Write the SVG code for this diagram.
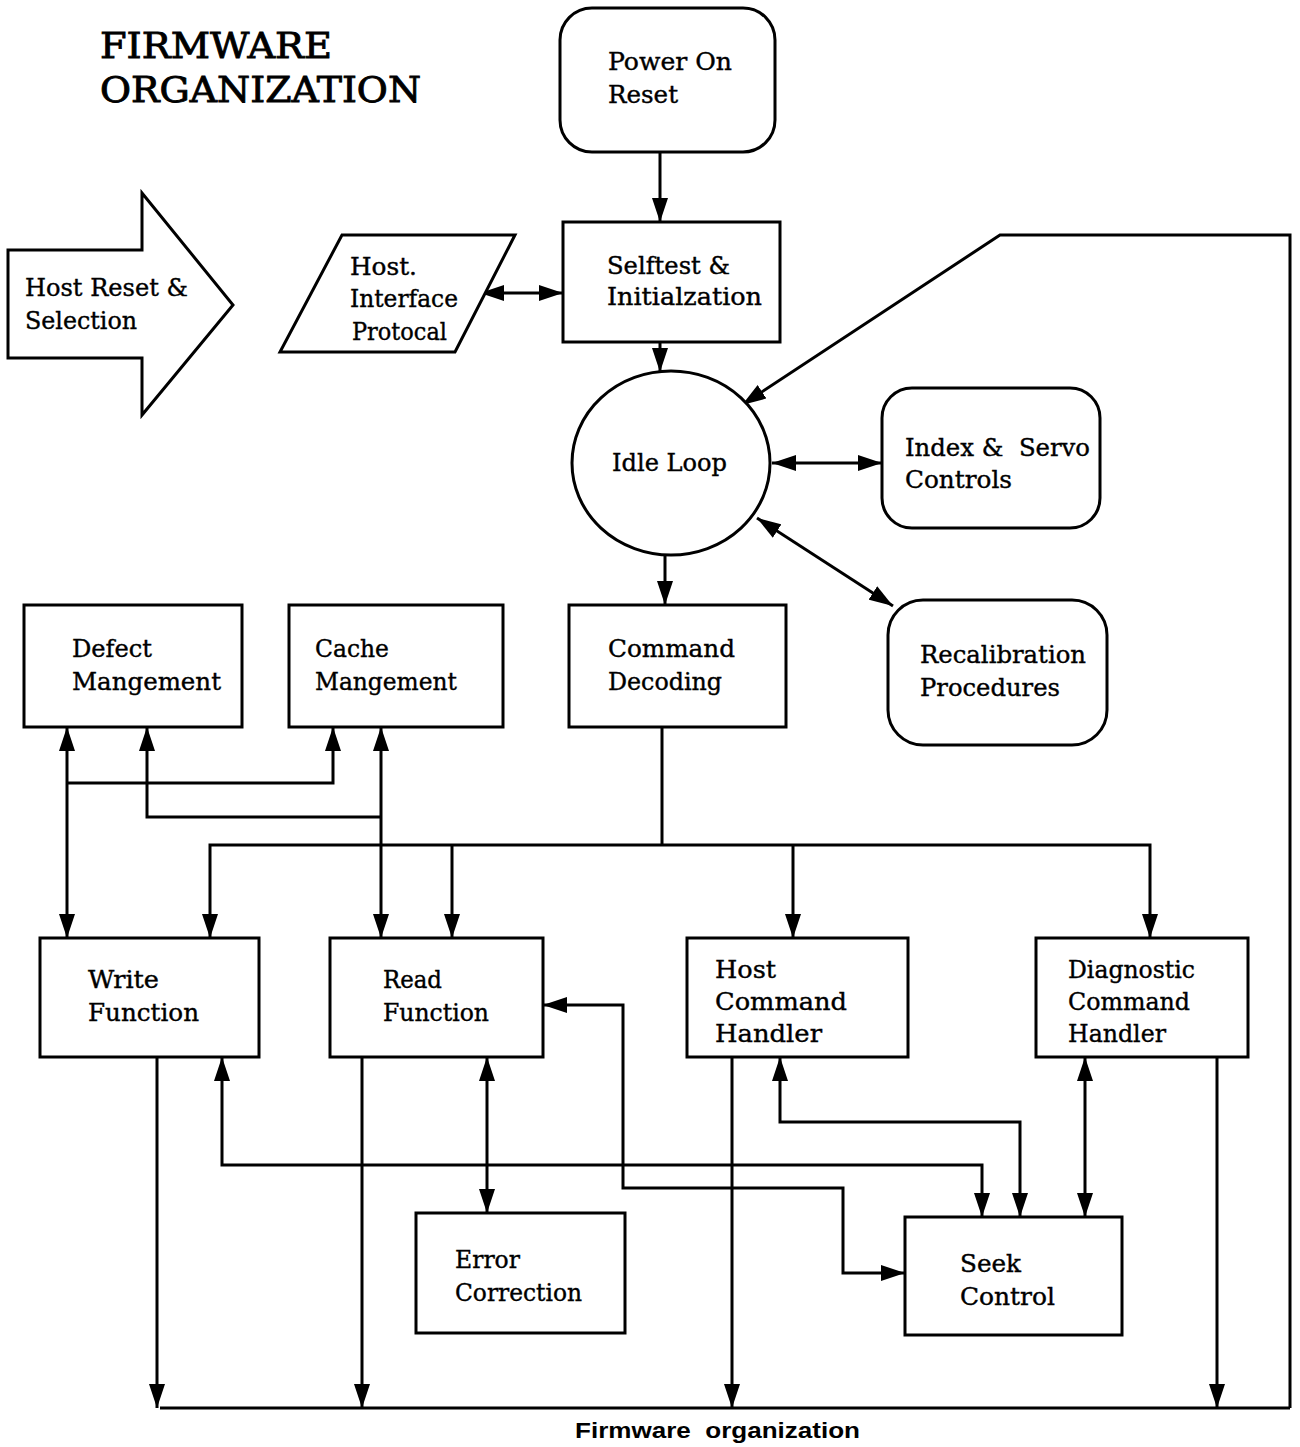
<svg xmlns="http://www.w3.org/2000/svg" width="1300" height="1447" viewBox="0 0 1300 1447">
<style>
.box{fill:#fff;stroke:#000;stroke-width:3}
.t{font-family:"DejaVu Serif","Liberation Serif",serif;font-size:25px;fill:#000;stroke:#000;stroke-width:0.4}
.title{font-family:"DejaVu Serif","Liberation Serif",serif;font-size:36px;fill:#000;stroke:#000;stroke-width:0.9}
.cap{font-family:"Liberation Sans",Arial,sans-serif;font-size:22px;font-weight:bold;fill:#000}
.c{fill:none;stroke:#000;stroke-width:3}
</style>
<defs>
<marker id="a" markerUnits="userSpaceOnUse" markerWidth="26" markerHeight="16" refX="24" refY="8" orient="auto-start-reverse">
<path d="M0,0 L24,8 L0,16 z" fill="#000"/>
</marker>
</defs>
<rect width="1300" height="1447" fill="#fff"/>
<g id="title">
<text class="title" x="100" y="58" textLength="232" lengthAdjust="spacingAndGlyphs">FIRMWARE</text>
<text class="title" x="100" y="102" textLength="321" lengthAdjust="spacingAndGlyphs">ORGANIZATION</text>
</g>
<g id="connectors">
<path class="c" d="M660,152 V222" marker-end="url(#a)"/>
<path class="c" d="M480,293 H563" marker-start="url(#a)" marker-end="url(#a)"/>
<path class="c" d="M660,342 V372" marker-end="url(#a)"/>
<path class="c" d="M772,463 H882" marker-start="url(#a)" marker-end="url(#a)"/>
<path class="c" d="M757,518 L893,606" marker-start="url(#a)" marker-end="url(#a)"/>
<path class="c" d="M1290,1408 V235 H1000 L742,405" marker-end="url(#a)"/>
<path class="c" d="M665,555 V605" marker-end="url(#a)"/>
<path class="c" d="M662,727 V845"/>
<path class="c" d="M210,938 V845 H1150 V938" marker-start="url(#a)" marker-end="url(#a)"/>
<path class="c" d="M452,845 V938" marker-end="url(#a)"/>
<path class="c" d="M793,845 V938" marker-end="url(#a)"/>
<path class="c" d="M67,727 V938" marker-start="url(#a)" marker-end="url(#a)"/>
<path class="c" d="M67,783 H333 V727" marker-end="url(#a)"/>
<path class="c" d="M147,727 V817 H381" marker-start="url(#a)"/>
<path class="c" d="M381,727 V938" marker-start="url(#a)" marker-end="url(#a)"/>
<path class="c" d="M157,1057 V1408" marker-end="url(#a)"/>
<path class="c" d="M362,1057 V1408" marker-end="url(#a)"/>
<path class="c" d="M732,1057 V1408" marker-end="url(#a)"/>
<path class="c" d="M1217,1057 V1408" marker-end="url(#a)"/>
<path class="c" d="M160,1408 H1290"/>
<path class="c" d="M222,1057 V1165 H982 V1217" marker-start="url(#a)" marker-end="url(#a)"/>
<path class="c" d="M487,1057 V1213" marker-start="url(#a)" marker-end="url(#a)"/>
<path class="c" d="M543,1005 H623 V1188 H843 V1273 H905" marker-start="url(#a)" marker-end="url(#a)"/>
<path class="c" d="M780,1057 V1122 H1020 V1217" marker-start="url(#a)" marker-end="url(#a)"/>
<path class="c" d="M1085,1057 V1217" marker-start="url(#a)" marker-end="url(#a)"/>
</g>
<g id="power-on-reset">
<rect class="box" x="560" y="8" width="215" height="144" rx="32"/>
<text class="t" x="608" y="70" textLength="124" lengthAdjust="spacingAndGlyphs">Power On</text>
<text class="t" x="608" y="103" textLength="70" lengthAdjust="spacingAndGlyphs">Reset</text>
</g>
<g id="host-reset">
<path class="box" d="M8,250 H142 V193 L233,305 L142,415 V358 H8 Z"/>
<text class="t" x="25" y="296" textLength="163" lengthAdjust="spacingAndGlyphs">Host Reset &amp;</text>
<text class="t" x="25" y="329" textLength="112" lengthAdjust="spacingAndGlyphs">Selection</text>
</g>
<g id="host-interface">
<path class="box" d="M342,235 H515 L455,352 H280 Z"/>
<text class="t" x="350" y="275" textLength="67" lengthAdjust="spacingAndGlyphs">Host.</text>
<text class="t" x="350" y="307" textLength="108" lengthAdjust="spacingAndGlyphs">Interface</text>
<text class="t" x="352" y="340" textLength="95" lengthAdjust="spacingAndGlyphs">Protocal</text>
</g>
<g id="selftest">
<rect class="box" x="563" y="222" width="217" height="120"/>
<text class="t" x="607" y="274" textLength="123" lengthAdjust="spacingAndGlyphs">Selftest &amp;</text>
<text class="t" x="607" y="305" textLength="155" lengthAdjust="spacingAndGlyphs">Initialzation</text>
</g>
<g id="idle-loop">
<ellipse class="box" cx="671" cy="463" rx="99" ry="92"/>
<text class="t" x="612" y="471" textLength="115" lengthAdjust="spacingAndGlyphs">Idle Loop</text>
</g>
<g id="index-servo">
<rect class="box" x="882" y="388" width="218" height="140" rx="30"/>
<text class="t" x="905" y="456" textLength="185" lengthAdjust="spacingAndGlyphs" xml:space="preserve">Index &amp;  Servo</text>
<text class="t" x="905" y="488" textLength="107" lengthAdjust="spacingAndGlyphs">Controls</text>
</g>
<g id="recalibration">
<rect class="box" x="888" y="600" width="219" height="145" rx="35"/>
<text class="t" x="920" y="663" textLength="166" lengthAdjust="spacingAndGlyphs">Recalibration</text>
<text class="t" x="920" y="696" textLength="140" lengthAdjust="spacingAndGlyphs">Procedures</text>
</g>
<g id="defect">
<rect class="box" x="24" y="605" width="218" height="122"/>
<text class="t" x="72" y="657" textLength="80" lengthAdjust="spacingAndGlyphs">Defect</text>
<text class="t" x="72" y="690" textLength="149" lengthAdjust="spacingAndGlyphs">Mangement</text>
</g>
<g id="cache">
<rect class="box" x="289" y="605" width="214" height="122"/>
<text class="t" x="315" y="657" textLength="74" lengthAdjust="spacingAndGlyphs">Cache</text>
<text class="t" x="315" y="690" textLength="142" lengthAdjust="spacingAndGlyphs">Mangement</text>
</g>
<g id="command-decoding">
<rect class="box" x="569" y="605" width="217" height="122"/>
<text class="t" x="608" y="657" textLength="127" lengthAdjust="spacingAndGlyphs">Command</text>
<text class="t" x="608" y="690" textLength="114" lengthAdjust="spacingAndGlyphs">Decoding</text>
</g>
<g id="write">
<rect class="box" x="40" y="938" width="219" height="119"/>
<text class="t" x="88" y="988" textLength="71" lengthAdjust="spacingAndGlyphs">Write</text>
<text class="t" x="88" y="1021" textLength="111" lengthAdjust="spacingAndGlyphs">Function</text>
</g>
<g id="read">
<rect class="box" x="330" y="938" width="213" height="119"/>
<text class="t" x="383" y="988" textLength="59" lengthAdjust="spacingAndGlyphs">Read</text>
<text class="t" x="383" y="1021" textLength="106" lengthAdjust="spacingAndGlyphs">Function</text>
</g>
<g id="host-command">
<rect class="box" x="687" y="938" width="221" height="119"/>
<text class="t" x="715" y="978" textLength="61" lengthAdjust="spacingAndGlyphs">Host</text>
<text class="t" x="715" y="1010" textLength="132" lengthAdjust="spacingAndGlyphs">Command</text>
<text class="t" x="715" y="1042" textLength="107" lengthAdjust="spacingAndGlyphs">Handler</text>
</g>
<g id="diagnostic">
<rect class="box" x="1036" y="938" width="212" height="119"/>
<text class="t" x="1068" y="978" textLength="127" lengthAdjust="spacingAndGlyphs">Diagnostic</text>
<text class="t" x="1068" y="1010" textLength="122" lengthAdjust="spacingAndGlyphs">Command</text>
<text class="t" x="1068" y="1042" textLength="98" lengthAdjust="spacingAndGlyphs">Handler</text>
</g>
<g id="error-correction">
<rect class="box" x="416" y="1213" width="209" height="120"/>
<text class="t" x="455" y="1268" textLength="65" lengthAdjust="spacingAndGlyphs">Error</text>
<text class="t" x="455" y="1301" textLength="127" lengthAdjust="spacingAndGlyphs">Correction</text>
</g>
<g id="seek-control">
<rect class="box" x="905" y="1217" width="217" height="118"/>
<text class="t" x="960" y="1272" textLength="61" lengthAdjust="spacingAndGlyphs">Seek</text>
<text class="t" x="960" y="1305" textLength="95" lengthAdjust="spacingAndGlyphs">Control</text>
</g>
<g id="caption">
<text class="cap" x="575" y="1438" textLength="285" lengthAdjust="spacingAndGlyphs" xml:space="preserve">Firmware  organization</text>
</g>
</svg>
